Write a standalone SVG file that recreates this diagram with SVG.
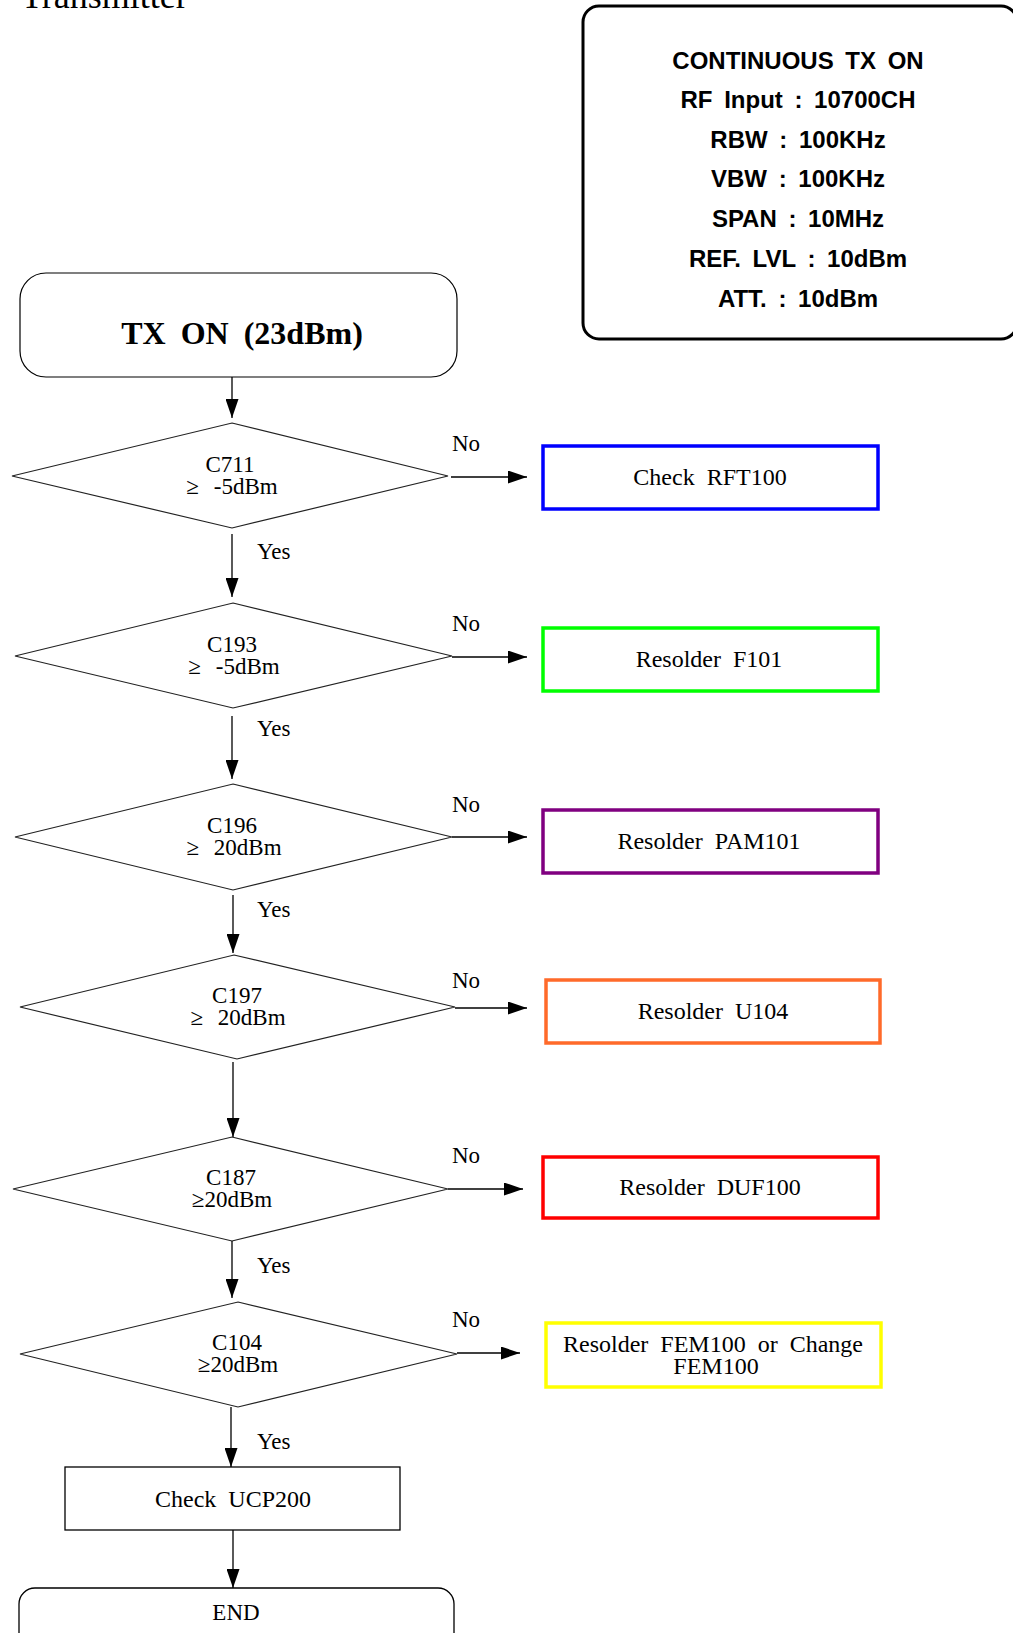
<svg xmlns="http://www.w3.org/2000/svg" width="1013" height="1633" viewBox="0 0 1013 1633">
<style>
.serif{font-family:"Liberation Serif","Times New Roman",serif;fill:#000}
.lbl{font-size:23px}
.dt{font-size:23px;text-anchor:middle;word-spacing:9px}
.bt{font-size:24px;text-anchor:middle;word-spacing:6px}
.info{font-family:"Liberation Sans",Arial,sans-serif;font-weight:bold;font-size:24px;text-anchor:middle;word-spacing:5px;fill:#000}
.dia{fill:#fff;stroke:#222;stroke-width:1.2}
.cbox{fill:#fff;stroke-width:3.5}
.conn line{stroke:#000;stroke-width:1.3;marker-end:url(#ah)}
</style>
<defs>
<marker id="ah" markerUnits="userSpaceOnUse" markerWidth="20" markerHeight="13" refX="19" refY="6.5" orient="auto">
<path d="M0,0 L19,6.5 L0,13 Z" fill="#000"/>
</marker>
</defs>
<rect width="1013" height="1633" fill="#fff"/>
<text class="serif" x="21" y="8" font-size="36">Transmitter</text>

<g id="info">
<rect x="583" y="6" width="434" height="333" rx="16" fill="#fff" stroke="#000" stroke-width="3"/>
<text class="info" x="798" y="69">CONTINUOUS TX ON</text>
<text class="info" x="798" y="108">RF Input : 10700CH</text>
<text class="info" x="798" y="148">RBW : 100KHz</text>
<text class="info" x="798" y="187">VBW : 100KHz</text>
<text class="info" x="798" y="227">SPAN : 10MHz</text>
<text class="info" x="798" y="267">REF. LVL : 10dBm</text>
<text class="info" x="798" y="307">ATT. : 10dBm</text>
</g>

<g id="start">
<rect x="20" y="273" width="437" height="104" rx="26" fill="#fff" stroke="#000" stroke-width="1.2"/>
<text class="serif" x="242" y="344" font-size="32" font-weight="bold" text-anchor="middle" word-spacing="7">TX ON (23dBm)</text>
</g>

<g id="d1">
<polygon class="dia" points="232,423 448,476 232,528 12,476"/>
<text class="serif dt" x="230" y="472">C711</text>
<text class="serif dt" x="232" y="494">≥ -5dBm</text>
</g>
<g id="d2">
<polygon class="dia" points="233,603 452,656 233,708 15,656"/>
<text class="serif dt" x="232" y="652">C193</text>
<text class="serif dt" x="234" y="674">≥ -5dBm</text>
</g>
<g id="d3">
<polygon class="dia" points="233,784 452,837 233,890 15,837"/>
<text class="serif dt" x="232" y="833">C196</text>
<text class="serif dt" x="234" y="855">≥ 20dBm</text>
</g>
<g id="d4">
<polygon class="dia" points="234,955 455,1007 237,1059 20,1007"/>
<text class="serif dt" x="237" y="1003">C197</text>
<text class="serif dt" x="238" y="1025">≥ 20dBm</text>
</g>
<g id="d5">
<polygon class="dia" points="232,1137 448,1189 232,1241 13,1189"/>
<text class="serif dt" x="231" y="1185">C187</text>
<text class="serif dt" x="232" y="1207">≥20dBm</text>
</g>
<g id="d6">
<polygon class="dia" points="238,1302 457,1354 238,1407 20,1354"/>
<text class="serif dt" x="237" y="1350">C104</text>
<text class="serif dt" x="238" y="1372">≥20dBm</text>
</g>

<g id="b1">
<rect class="cbox" x="543" y="446" width="335" height="63" stroke="#0000FF"/>
<text class="serif bt" x="710" y="485">Check RFT100</text>
</g>
<g id="b2">
<rect class="cbox" x="543" y="628" width="335" height="63" stroke="#00FF00"/>
<text class="serif bt" x="709" y="667">Resolder F101</text>
</g>
<g id="b3">
<rect class="cbox" x="543" y="810" width="335" height="63" stroke="#800080"/>
<text class="serif bt" x="709" y="849">Resolder PAM101</text>
</g>
<g id="b4">
<rect class="cbox" x="546" y="980" width="334" height="63" stroke="#FF6A2A"/>
<text class="serif bt" x="713" y="1019">Resolder U104</text>
</g>
<g id="b5">
<rect class="cbox" x="543" y="1157" width="335" height="61" stroke="#FF0000"/>
<text class="serif bt" x="710" y="1195">Resolder DUF100</text>
</g>
<g id="b6">
<rect class="cbox" x="546" y="1323" width="335" height="64" stroke="#FFFF00"/>
<text class="serif bt" x="713" y="1352" font-size="23" word-spacing="9">Resolder FEM100 or Change</text>
<text class="serif bt" x="716" y="1374" font-size="23">FEM100</text>
</g>

<g id="ucp">
<rect x="65" y="1467" width="335" height="63" fill="#fff" stroke="#000" stroke-width="1.3"/>
<text class="serif bt" x="233" y="1507">Check UCP200</text>
</g>
<g id="end">
<rect x="19" y="1588" width="435" height="70" rx="16" fill="#fff" stroke="#000" stroke-width="1.3"/>
<text class="serif lbl" x="236" y="1620" text-anchor="middle">END</text>
</g>

<g id="connectors" class="conn">
<line x1="232" y1="377" x2="232" y2="418"/>
<line x1="232" y1="534" x2="232" y2="597"/>
<line x1="232" y1="716" x2="232" y2="779"/>
<line x1="233" y1="895" x2="233" y2="953"/>
<line x1="233" y1="1062" x2="233" y2="1137"/>
<line x1="232" y1="1241" x2="232" y2="1298"/>
<line x1="231" y1="1407" x2="231" y2="1467"/>
<line x1="233" y1="1530" x2="233" y2="1588"/>
<line x1="451" y1="477" x2="527" y2="477"/>
<line x1="452" y1="657" x2="527" y2="657"/>
<line x1="452" y1="837" x2="527" y2="837"/>
<line x1="455" y1="1008" x2="527" y2="1008"/>
<line x1="448" y1="1189" x2="523" y2="1189"/>
<line x1="457" y1="1353" x2="520" y2="1353"/>
</g>

<g id="labels" class="serif lbl">
<text x="452" y="451">No</text>
<text x="452" y="631">No</text>
<text x="452" y="812">No</text>
<text x="452" y="988">No</text>
<text x="452" y="1163">No</text>
<text x="452" y="1327">No</text>
<text x="257" y="559">Yes</text>
<text x="257" y="736">Yes</text>
<text x="257" y="917">Yes</text>
<text x="257" y="1273">Yes</text>
<text x="257" y="1449">Yes</text>
</g>
</svg>
